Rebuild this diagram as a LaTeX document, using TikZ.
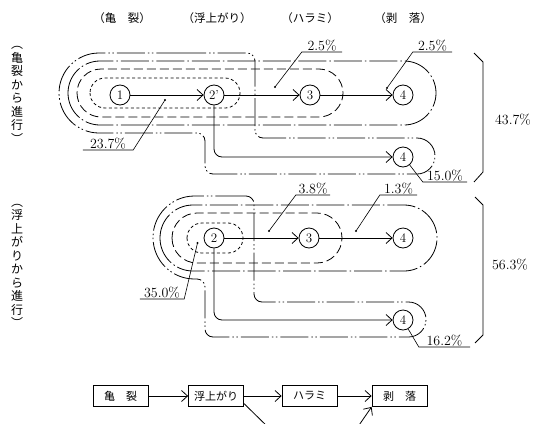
\documentclass[tikz,border=0pt]{standalone}
\usepackage{fontspec}
\newfontfamily\jp{Noto Sans CJK JP}
\usetikzlibrary{arrows.meta}

\tikzset{
    num/.style={draw,circle,minimum size=20pt,inner sep=0pt,line width=0.8pt,font=\fontsize{13}{13}\selectfont},
    flow/.style={line width=0.8pt,-{Straight Barb[length=6pt,width=11pt]}},
    pct/.style={anchor=south,inner xsep=0pt,inner ysep=1pt,font=\fontsize{14}{14}\selectfont},
    total/.style={font=\fontsize{14}{14}\selectfont},
    lead/.style={line width=0.6pt},
    loopa/.style={line width=0.8pt,dash pattern=on 3pt off 2.5pt},
    loopb/.style={line width=0.8pt,dash pattern=on 9pt off 4pt},
    loopc/.style={line width=0.8pt,dash pattern=on 28pt off 3pt on 1.5pt off 3pt},
    loopd/.style={line width=0.8pt,dash pattern=on 28pt off 3pt on 1.5pt off 2.5pt on 1.5pt off 3pt},
    head/.style={font=\jp\fontsize{11.5}{12}\selectfont},
    side/.style={font=\jp\fontsize{12}{13.5}\selectfont,align=center,inner sep=0pt},
    stage/.style={draw,line width=0.8pt,minimum width=55pt,minimum height=21pt,inner sep=0pt,font=\jp\fontsize{11}{11}\selectfont}
}

\begin{document}
\begin{tikzpicture}[x=1pt,y=-1pt]
        \clip (0,0) rectangle (534,423);

        % column heads
        \node[head] (h1) at (122,18) {（亀　裂）};
        \node[head] (h2) at (217,18) {（浮上がり）};
        \node[head] (h3) at (310,18) {（ハラミ）};
        \node[head] (h4) at (403,18) {（剥　落）};

        \node[side] (s1) at (17,95) {︵\\亀\\裂\\か\\ら\\進\\行\\︶};
        \node[side] (s2) at (17,266) {︵\\浮\\上\\が\\り\\か\\ら\\進\\行\\︶};

        % upper group
        \draw[loopa,rounded corners=15pt] (90,78) rectangle (240,108);
        \draw[loopb,rounded corners=24pt] (77,69) rectangle (343,117);
        \draw[loopc,rounded corners=32pt] (68,61) rectangle (436,125);
        \draw[loopd] (170,53) [rounded corners=8pt] -- (255,53) -- (255,138)
            [rounded corners=18pt] -- (435,138) -- (435,174)
            [rounded corners=8pt] -- (205,174) -- (205,133)
            [rounded corners=40pt] -- (59,133) -- (59,53) [rounded corners=8pt] -- cycle;

        \node[num] (c1) at (120,95) {1};
        \node[num] (c2p) at (214,95) {2'};
        \node[num] (c3) at (310,95) {3};
        \node[num] (c4) at (403,95) {4};
        \node[num] (c4b) at (403,157) {4};

        \draw[flow] (c1) -- (c2p);
        \draw[flow] (c2p) -- (c3);
        \draw[flow] (c3) -- (c4);
        \draw[flow,rounded corners=8pt] (c2p) |- (c4b);

        \coordinate (d1) at (275,87);
        \coordinate (d2) at (387,88);
        \coordinate (d3) at (165,100);
        \fill (d1) circle (1.2pt);
        \fill (d2) circle (1.2pt);
        \fill (d3) circle (1.2pt);

        \node[pct,minimum width=40pt] (p1) at (322,52) {2.5\%};
        \node[pct,minimum width=39pt] (p2) at (432.5,52) {2.5\%};
        \node[pct,minimum width=50pt] (p3) at (108,150) {23.7\%};
        \node[pct,minimum width=44pt] (p4) at (445,182) {15.0\%};
        \draw[lead] (d1) -- (p1.south west) -- (p1.south east);
        \draw[lead] (d2) -- (p2.south west) -- (p2.south east);
        \draw[lead] (d3) -- (p3.south east) -- (p3.south west);
        \draw[lead] (c4b.-50) -- (p4.south west) -- (p4.south east);

        \draw[line width=0.8pt] (474,53) -- (483,62) -- (483,172) -- (474,182);
        \node[total] (t1) at (513,120) {43.7\%};

        % lower group
        \draw[loopa,rounded corners=15pt] (187,223) rectangle (243,253);
        \draw[loopb,rounded corners=25pt] (172,213) rectangle (342,263);
        \draw[loopc,rounded corners=33pt] (160,205) rectangle (437,271);
        \draw[loopd] (220,196) [rounded corners=8pt] -- (254,196) -- (254,302)
            [rounded corners=17.5pt] -- (426,302) -- (426,337)
            [rounded corners=8pt] -- (205,337) -- (205,279)
            [rounded corners=41.5pt] -- (153,279) -- (153,196) [rounded corners=8pt] -- cycle;

        \node[num] (c2) at (214,238) {2};
        \node[num] (c3b) at (309,238) {3};
        \node[num] (c4c) at (403,238) {4};
        \node[num] (c4d) at (403,320) {4};

        \draw[flow] (c2) -- (c3b);
        \draw[flow] (c3b) -- (c4c);
        \draw[flow,rounded corners=8pt] (c2) |- (c4d);

        \coordinate (d4) at (269,231);
        \coordinate (d5) at (356,231);
        \coordinate (d6) at (197.5,243);
        \fill (d4) circle (1.2pt);
        \fill (d5) circle (1.2pt);
        \fill (d6) circle (1.2pt);

        \node[pct,minimum width=34pt] (p5) at (313,195) {3.8\%};
        \node[pct,minimum width=37pt] (p6) at (398.5,195) {1.3\%};
        \node[pct,minimum width=44pt] (p7) at (162,299) {35.0\%};
        \node[pct,minimum width=51pt] (p8) at (444.5,347) {16.2\%};
        \draw[lead] (d4) -- (p5.south west) -- (p5.south east);
        \draw[lead] (d5) -- (p6.south west) -- (p6.south east);
        \draw[lead] (d6) -- (p7.south east) -- (p7.south west);
        \draw[lead] (c4d.-60) -- (p8.south west) -- (p8.south east);

        \draw[line width=0.8pt] (475,197) -- (483,205) -- (483,335) -- (475,343);
        \node[total] (t2) at (510,265) {56.3\%};

        % stages
        \node[stage] (b1) at (120.5,396) {亀　裂};
        \node[stage] (b2) at (216,396) {浮上がり};
        \node[stage] (b3) at (309.5,396) {ハラミ};
        \node[stage] (b4) at (399.5,396) {剥　落};
        \draw[flow] (b1) -- (b2);
        \draw[flow] (b2) -- (b3);
        \draw[flow] (b3) -- (b4);
        \coordinate (v1) at (272,431);
        \coordinate (v2) at (355,431);
        \draw[flow] (b2.-15) -- (v1) -- (v2) -- (b4.south west);
    \end{tikzpicture}
\end{document}
